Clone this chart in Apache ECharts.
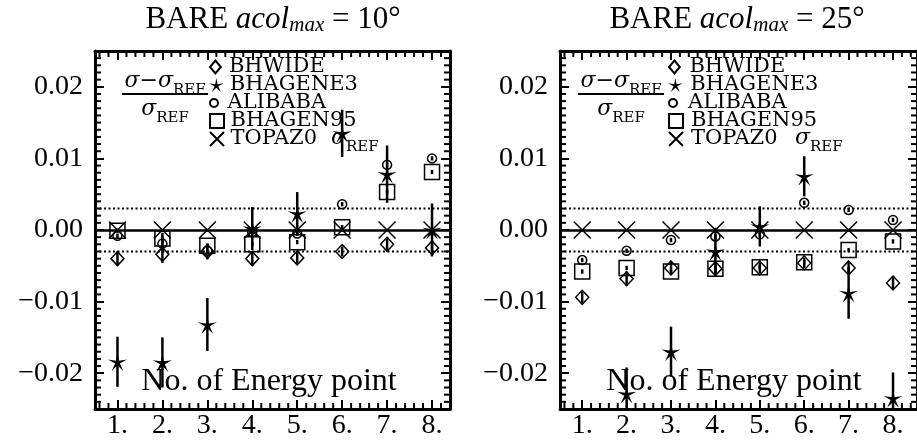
<!DOCTYPE html>
<html>
<head>
<meta charset="utf-8">
<script src="https://cdn.jsdelivr.net/npm/echarts@6/dist/echarts.min.js"></script>
<style>html,body{margin:0;padding:0;background:#fff}</style>
</head>
<body>
<div id="main" style="width:917px;height:445px"></div>
<script>
var energyPoints = [1, 2, 3, 4, 5, 6, 7, 8];
var xTicks = [1, 2, 3, 4, 5, 6, 7, 8];
var yTicks = [-0.02, -0.01, 0, 0.01, 0.02];
var bandLines = [0.003, -0.003];

// BARE acol_max = 10 deg
var bhwide10 = [-0.0040, -0.0034, -0.0030, -0.0040, -0.0039, -0.0030, -0.0020, -0.0025];
var bhwide10Err = [0.0010, 0.0012, 0.0011, 0.0010, 0.0008, 0.0007, 0.0010, 0.0009];
var bhagene10 = [-0.0184, -0.0185, -0.0132, 0.0002, 0.0023, 0.0135, 0.0078, 0.0000];
var bhagene10Err = [0.0035, 0.0035, 0.0037, 0.0030, 0.0030, 0.0033, 0.0040, 0.0037];
var alibaba10 = [-0.0008, -0.0019, -0.0029, -0.0003, -0.0005, 0.0036, 0.0091, 0.0100];
var alibaba10Err = [0.0003, 0.0010, 0.0003, 0.0003, 0.0003, 0.0003, 0.0003, 0.0003];
var bhagen95_10 = [-0.0001, -0.0012, -0.0022, -0.0020, -0.0017, 0.0004, 0.0053, 0.0081];
var bhagen95_10Err = [0.0003, 0.0008, 0.0003, 0.0003, 0.0003, 0.0003, 0.0003, 0.0003];
var topaz10 = [0, 0, 0, 0, 0, 0, 0, 0];

// BARE acol_max = 25 deg
var bhwide25 = [-0.0094, -0.0068, -0.0053, -0.0054, -0.0053, -0.0046, -0.0053, -0.0074];
var bhwide25Err = [0.0008, 0.0010, 0.0009, 0.0009, 0.0008, 0.0007, 0.0009, 0.0009];
var bhagene25 = [null, -0.0229, -0.0170, -0.0030, 0.0005, 0.0075, -0.0088, -0.0235];
var bhagene25Err = [0, 0.0037, 0.0035, 0.0033, 0.0028, 0.0028, 0.0036, 0.0036];
var alibaba25 = [-0.0042, -0.0029, -0.0014, -0.0009, -0.0006, 0.0038, 0.0028, 0.0014];
var alibaba25Err = [0.0003, 0.0003, 0.0003, 0.0003, 0.0003, 0.0003, 0.0003, 0.0003];
var bhagen95_25 = [-0.0058, -0.0053, -0.0058, -0.0054, -0.0052, -0.0045, -0.0028, -0.0016];
var bhagen95_25Err = [0.0003, 0.0003, 0.0003, 0.0003, 0.0003, 0.0003, 0.0003, 0.0003];
var topaz25 = [0, 0, 0, 0, 0, 0, 0, 0];

var font = "'Liberation Serif', serif";
var wideFont = "'DejaVu Serif', serif";
var diamondPath = "path://M5,0L10,6L5,12L0,6Z";
var squarePath = "path://M0,0L10,0L10,10L0,10Z";
var crossPath = "path://M0,0L10,10M10,0L0,10";
var starPath = "path://M10,0L11.47,7.98L19.51,6.91L12.38,10.77L15.88,18.09L10,12.5L4.12,18.09L7.62,10.77L0.49,6.91L8.53,7.98Z";

var markers = [
  { name: "BHWIDE", symbol: diamondPath, size: [13, 14], fill: "transparent", legendH: 13 },
  { name: "BHAGENE3", symbol: starPath, size: 19, fill: "#000", legendH: 14 },
  { name: "ALIBABA", symbol: "circle", size: 9, fill: "transparent", legendH: 8 },
  { name: "BHAGEN95", symbol: squarePath, size: 15, fill: "transparent", legendH: 14 },
  { name: "TOPAZ0", symbol: crossPath, size: 17, fill: "transparent", legendH: 14 }
];

var panels = [
  { grid: { left: 95, top: 51, width: 355, height: 358 }, xMax: 8.4,
    values: [bhwide10, bhagene10, alibaba10, bhagen95_10, topaz10],
    errs: [bhwide10Err, bhagene10Err, alibaba10Err, bhagen95_10Err, null],
    title: "10°", titleX: 273, legendLeft: 209, legendW: 17, fracX: 165, refX: 331 },
  { grid: { left: 560, top: 51, width: 360, height: 358 }, xMax: 8.54,
    values: [bhwide25, bhagene25, alibaba25, bhagen95_25, topaz25],
    errs: [bhwide25Err, bhagene25Err, alibaba25Err, bhagen95_25Err, null],
    title: "25°", titleX: 737, legendLeft: 668, legendW: 20, fracX: 621, refX: 795 }
];

function minorValues(lo, hi, step, ratio) {
  var out = [];
  for (var i = Math.round(lo / step); i <= Math.round(hi / step); i++) {
    if (i % ratio !== 0) out.push(+(i * step).toFixed(6));
  }
  return out;
}
var xMinor = minorValues(0.6, 8.4, 0.2, 5);
var yMinor = minorValues(-0.024, 0.024, 0.001, 10);

// one short inward tick per data item on the given side of the grid
function minorTickSeries(side, xi, yi) {
  var vertical = side === "bottom" || side === "top";
  return {
    type: "custom", name: "minor " + side, xAxisIndex: xi, yAxisIndex: yi, silent: true, z: 3,
    data: vertical ? xMinor.map(function (v) { return [v, 0]; }) : yMinor.map(function (v) { return [1, v]; }),
    renderItem: function (params, api) {
      var cs = params.coordSys;
      var pt = api.coord([api.value(0), api.value(1)]);
      var shape;
      if (side === "bottom") shape = { x1: pt[0], y1: cs.y + cs.height, x2: pt[0], y2: cs.y + cs.height - 6 };
      else if (side === "top") shape = { x1: pt[0], y1: cs.y, x2: pt[0], y2: cs.y + 6 };
      else if (side === "left") shape = { x1: cs.x, y1: pt[1], x2: cs.x + 6, y2: pt[1] };
      else shape = { x1: cs.x + cs.width, y1: pt[1], x2: cs.x + cs.width - 6, y2: pt[1] };
      return { type: "line", shape: shape, style: { stroke: "#000", lineWidth: 2 } };
    }
  };
}

var chart = echarts.init(document.getElementById("main"));
var grids = [], xAxes = [], yAxes = [], series = [], legends = [], graphics = [];

panels.forEach(function (p, g) {
  grids.push(p.grid);
  ["bottom", "top"].forEach(function (pos) {
    xAxes.push({
      gridIndex: g, type: "value", min: 0.5, max: p.xMax, position: pos,
      axisLine: { show: true, onZero: false, lineStyle: { color: "#000", width: 3 } },
      axisTick: { show: true, inside: true, length: 9, customValues: xTicks, lineStyle: { color: "#000", width: 2 } },
      axisLabel: { show: pos === "bottom", customValues: xTicks, margin: 3, color: "#000",
        fontFamily: font, fontSize: 28, formatter: function (v) { return v + "."; } },
      splitLine: { show: false }
    });
  });
  ["left", "right"].forEach(function (pos) {
    yAxes.push({
      gridIndex: g, type: "value", min: -0.025, max: 0.025, position: pos,
      axisLine: { show: true, onZero: false, lineStyle: { color: "#000", width: 3 } },
      axisTick: { show: true, inside: true, length: 9, customValues: yTicks, lineStyle: { color: "#000", width: 2 } },
      axisLabel: { show: pos === "left", customValues: yTicks, margin: 12, color: "#000",
        fontFamily: font, fontSize: 28,
        formatter: function (v) { return (v < 0 ? "\u2212" : "") + Math.abs(v).toFixed(2); } },
      splitLine: { show: false }
    });
  });

  var xi = 2 * g, yi = 2 * g;
  ["bottom", "top", "left", "right"].forEach(function (side) {
    series.push(minorTickSeries(side, xi, yi));
  });

  // dotted band at +-0.003
  series.push({
    type: "custom", name: "band", xAxisIndex: xi, yAxisIndex: yi, silent: true, z: 2,
    data: bandLines.map(function (v) { return [1, v]; }),
    renderItem: function (params, api) {
      var cs = params.coordSys;
      var py = api.coord([1, api.value(1)])[1];
      return { type: "line", shape: { x1: cs.x, y1: py, x2: cs.x + cs.width, y2: py },
        style: { stroke: "#000", lineWidth: 2, lineDash: [2, 2.5] } };
    }
  });

  markers.forEach(function (m, k) {
    var vals = p.values[k], errs = p.errs[k];
    var pts = [];
    energyPoints.forEach(function (x, i) { if (vals[i] !== null) pts.push([x, vals[i], errs ? errs[i] : 0]); });
    if (errs) {
      series.push({
        type: "custom", name: m.name + " err", xAxisIndex: xi, yAxisIndex: yi, silent: true, z: 3,
        data: pts,
        renderItem: function (params, api) {
          var x = api.value(0), y = api.value(1), e = api.value(2);
          if (!e) return null;
          var a = api.coord([x, y + e]), b = api.coord([x, y - e]);
          var cs = params.coordSys;
          var top = Math.max(a[1], cs.y), bot = Math.min(b[1], cs.y + cs.height);
          if (bot <= top) return null;
          return { type: "line", shape: { x1: a[0], y1: top, x2: a[0], y2: bot },
            style: { stroke: "#000", lineWidth: 2.5 } };
        }
      });
    }
    var s = {
      type: "scatter", name: m.name, xAxisIndex: xi, yAxisIndex: yi, silent: true, z: 4,
      symbol: m.symbol, symbolSize: m.size, clip: true,
      data: pts.map(function (d) { return [d[0], d[1]]; }),
      itemStyle: { color: m.fill, borderColor: "#000", borderWidth: m.fill === "#000" ? 0 : 1.5, opacity: 1 }
    };
    if (m.name === "TOPAZ0") {
      s.markLine = {
        silent: true, symbol: "none", label: { show: false }, animation: false,
        data: [{ yAxis: 0, lineStyle: { color: "#000", type: "solid", width: 2.5 } }]
      };
    }
    series.push(s);

    legends.push({
      data: [m.name], selectedMode: false, orient: "vertical", padding: 0,
      left: p.legendLeft, top: 65.5 + 18 * k - 9,
      itemWidth: p.legendW, itemHeight: m.legendH, symbolKeepAspect: true,
      textStyle: { fontFamily: wideFont, fontSize: 21, color: "#000", lineHeight: 18 }
    });
  });

  var rich = {
    r: { fontFamily: font, fontSize: 31, color: "#000", lineHeight: 30, verticalAlign: "top" },
    i: { fontFamily: font, fontSize: 31, fontStyle: "italic", color: "#000", lineHeight: 30, verticalAlign: "top" },
    s: { fontFamily: font, fontSize: 21, fontStyle: "italic", color: "#000", lineHeight: 32, verticalAlign: "bottom" }
  };
  graphics.push({
    type: "text", x: p.titleX, y: 20,
    style: { text: "{r|BARE }{i|acol}{s|max}{r| = " + p.title + "}", rich: rich, align: "center", verticalAlign: "middle" }
  });
  var sig = {
    g: { fontFamily: wideFont, fontSize: 22, fontStyle: "italic", color: "#000", lineHeight: 22, verticalAlign: "top" },
    m: { fontFamily: wideFont, fontSize: 22, color: "#000", lineHeight: 22, verticalAlign: "top" },
    s: { fontFamily: wideFont, fontSize: 15, color: "#000", lineHeight: 28, verticalAlign: "bottom" }
  };
  graphics.push({ type: "text", x: p.fracX, y: 84,
    style: { text: "{g|σ}{m|−}{g|σ}{s|REF}", rich: sig, align: "center", verticalAlign: "middle" } });
  graphics.push({ type: "line", shape: { x1: p.fracX - 43, y1: 94, x2: p.fracX + 43, y2: 94 },
    style: { stroke: "#000", lineWidth: 2 } });
  graphics.push({ type: "text", x: p.fracX, y: 112,
    style: { text: "{g|σ}{s|REF}", rich: sig, align: "center", verticalAlign: "middle" } });
  graphics.push({ type: "text", x: p.refX, y: 141,
    style: { text: "{g|σ}{s|REF}", rich: sig, align: "left", verticalAlign: "middle" } });
  graphics.push({ type: "text", x: p.grid.left + 174, y: 382,
    style: { text: "No. of Energy point", fontFamily: font, fontSize: 32, fill: "#000", align: "center", verticalAlign: "middle" } });
});

var option = {
  animation: false,
  backgroundColor: "#fff",
  grid: grids,
  xAxis: xAxes,
  yAxis: yAxes,
  legend: legends,
  series: series,
  graphic: graphics
};
chart.setOption(option);
</script>
</body>
</html>
